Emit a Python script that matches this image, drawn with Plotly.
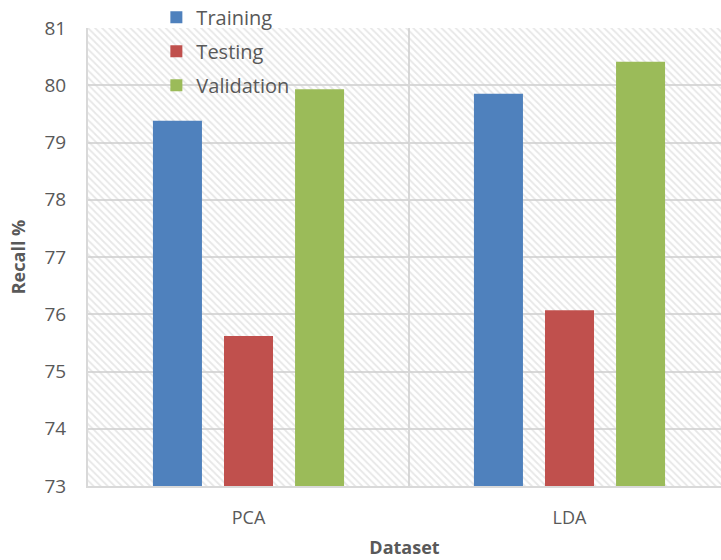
import plotly.graph_objects as go

# Recall (%) per dimensionality-reduction method and data split
datasets = ["PCA", "LDA"]
training = [79.38, 79.85]
testing = [75.62, 76.07]
validation = [79.93, 80.41]

y_ticks = [73, 74, 75, 76, 77, 78, 79, 80, 81]

x_pos = list(range(len(datasets)))
grey = "#595959"
grid = "#d9d9d9"
font_family = "Open Sans, Noto Sans, sans-serif"

plot_w = 721 - 88
cat_px = 321
x_range = [-0.5, -0.5 + plot_w / cat_px]
y_range = [y_ticks[0], y_ticks[-1]]

fig = go.Figure()

# hatched plot-area background (transparent gaps so the grid shows through)
fig.add_trace(go.Scatter(
    x=[-0.5, 1.6, 1.6, -0.5, -0.5],
    y=[y_range[0], y_range[0], y_range[1], y_range[1], y_range[0]],
    mode="lines", fill="toself",
    line=dict(width=0, color="rgba(0,0,0,0)"),
    fillcolor="rgba(0,0,0,0)",
    fillpattern=dict(shape="\\", fgcolor="#d0d0d0", bgcolor="rgba(0,0,0,0)",
                     size=5, solidity=0.35),
    hoverinfo="skip", showlegend=False,
))

# bars live on an overlaid axis pair so they sit above the hatch
series = [("Training", training, "#4F81BD"),
          ("Testing", testing, "#C0504D"),
          ("Validation", validation, "#9BBB59")]
for name, vals, color in series:
    fig.add_trace(go.Bar(
        x=x_pos, y=vals, name=name, legendgroup=name,
        xaxis="x2", yaxis="y2",
        marker=dict(color=color, line=dict(width=0)),
    ))

# separator between the two categories
fig.add_shape(type="line", xref="x", yref="y", x0=0.5, x1=0.5,
              y0=y_range[0], y1=y_range[1],
              line=dict(color=grid, width=2), layer="below")

fig.update_layout(
    width=721, height=560,
    margin=dict(l=88, r=0, t=28, b=74, autoexpand=False),
    paper_bgcolor="white", plot_bgcolor="white",
    barmode="group", bargap=0.336, bargroupgap=0.31,
    font=dict(family=font_family, color=grey),
    legend=dict(
        x=0.108, y=1.066, xanchor="left", yanchor="top",
        bgcolor="rgba(0,0,0,0)", font=dict(size=20, color=grey),
        tracegroupgap=5, itemwidth=30,
    ),
    xaxis=dict(
        range=x_range,
        tickmode="array", tickvals=x_pos, ticktext=datasets,
        showgrid=False, zeroline=False,
        showline=True, linecolor=grid, linewidth=2,
        ticks="", tickfont=dict(size=18, color=grey), ticklabelstandoff=14,
        title=dict(text="<b>Dataset</b>", font=dict(size=18, color=grey),
                   standoff=14),
    ),
    yaxis=dict(
        range=y_range,
        tickmode="array", tickvals=y_ticks,
        showgrid=True, gridcolor=grid, gridwidth=2,
        zeroline=False, showline=True, linecolor=grid, linewidth=2,
        ticks="", tickfont=dict(size=19, color=grey), ticklabelstandoff=16,
        title=dict(text="<b>Recall %</b>", font=dict(size=18, color=grey),
                   standoff=14),
    ),
    xaxis2=dict(range=x_range, overlaying="x", visible=False),
    yaxis2=dict(range=y_range, overlaying="y", visible=False),
)

fig.write_html("out.html")
